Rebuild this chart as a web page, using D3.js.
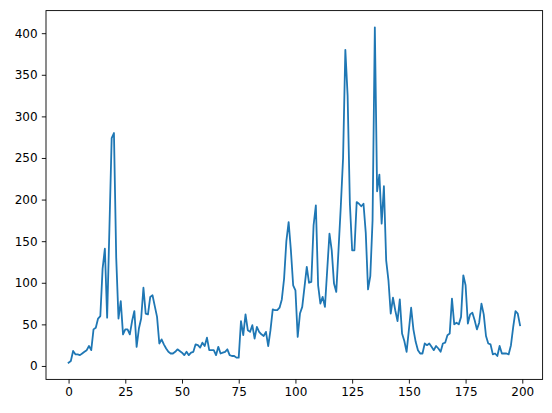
<!DOCTYPE html>
<html>
<head>
<meta charset="utf-8">
<script src="https://cdn.jsdelivr.net/npm/d3@7"></script>
<style>
  html, body { margin: 0; padding: 0; background: #fff; }
  svg { display: block; }
  text { font-family: "DejaVu Sans", sans-serif; font-size: 12px; fill: #000; }
</style>
</head>
<body>
<svg id="chart" width="552" height="413"></svg>
<script>
// Series values, index 0..199
const values = [
  4, 6, 18, 14, 14, 13, 15, 17, 19, 24,
  19, 44, 46, 57, 60, 117, 141, 58, 165, 274,
  280, 130, 57, 78, 38, 44, 44, 38, 54, 66,
  23, 45, 57, 94, 63, 62, 83, 85, 72, 59,
  27, 32, 26, 21, 17, 15, 15, 17, 20, 18,
  16, 13, 17, 13, 16, 17, 26, 25, 22, 28,
  24, 34, 19, 19, 19, 13, 23, 15, 16, 17,
  20, 13, 12, 12, 10, 10, 54, 37, 62, 43,
  41, 49, 33, 47, 41, 38, 36, 41, 24, 43,
  68, 67, 67, 70, 80, 105, 150, 173, 139, 97,
  91, 35, 63, 71, 95, 119, 100, 101, 169, 193,
  97, 75, 83, 71, 115, 159, 139, 99, 89, 140,
  192, 250, 380, 325, 195, 139, 139, 197, 195, 192,
  195, 160, 92, 108, 175, 407, 210, 230, 171, 216,
  127, 103, 63, 82, 67, 54, 80, 39, 30, 17,
  43, 70, 44, 29, 19, 15, 15, 27, 25, 27,
  23, 19, 24, 21, 17, 27, 28, 37, 39, 81,
  50, 52, 50, 59, 109, 97, 51, 62, 64, 55,
  44, 52, 75, 62, 36, 27, 26, 14, 15, 12,
  24, 15, 15, 15, 14, 25, 47, 66, 63, 49
];
const xTicks = [0, 25, 50, 75, 100, 125, 150, 175, 200];
const yTicks = [0, 50, 100, 150, 200, 250, 300, 350, 400];

const data = values.map((v, i) => ({ x: i, y: v }));

const svg = d3.select("#chart");
const mLeft = 46, mRight = 542.6, mTop = 10.6, mBottom = 379.4;

const xMin = 0, xMax = values.length - 1;
const xPad = (xMax - xMin) * 0.05;
const yMinV = d3.min(values), yMaxV = d3.max(values);
const yPad = (yMaxV - yMinV) * 0.05;

const x = d3.scaleLinear().domain([xMin - xPad, xMax + xPad]).range([mLeft, mRight]);
const y = d3.scaleLinear().domain([yMinV - yPad, yMaxV + yPad]).range([mBottom, mTop]);

// Line
const line = d3.line().x(d => x(d.x)).y(d => y(d.y));
svg.append("path")
  .datum(data)
  .attr("fill", "none")
  .attr("stroke", "#1f77b4")
  .attr("stroke-width", 1.8)
  .attr("stroke-linejoin", "round")
  .attr("stroke-linecap", "square")
  .attr("d", line);

// Axes
const xAxis = d3.axisBottom(x).tickValues(xTicks).tickSize(4.2).tickPadding(4.2).tickFormat(d3.format("d"));
const yAxis = d3.axisLeft(y).tickValues(yTicks).tickSize(4.2).tickPadding(4.2).tickFormat(d3.format("d"));

const gx = svg.append("g").attr("transform", `translate(0,${mBottom})`).call(xAxis);
const gy = svg.append("g").attr("transform", `translate(${mLeft},0)`).call(yAxis);
[gx, gy].forEach(g => {
  g.select(".domain").remove();
  g.selectAll(".tick line").attr("stroke", "#000").attr("stroke-width", 0.9);
  g.selectAll(".tick text").attr("fill", "#000").style("font-size", "12px")
    .style("font-family", "'DejaVu Sans', sans-serif");
});

// Frame (spines)
svg.append("rect")
  .attr("x", mLeft).attr("y", mTop)
  .attr("width", mRight - mLeft).attr("height", mBottom - mTop)
  .attr("fill", "none").attr("stroke", "#000").attr("stroke-width", 0.9);
</script>
</body>
</html>
